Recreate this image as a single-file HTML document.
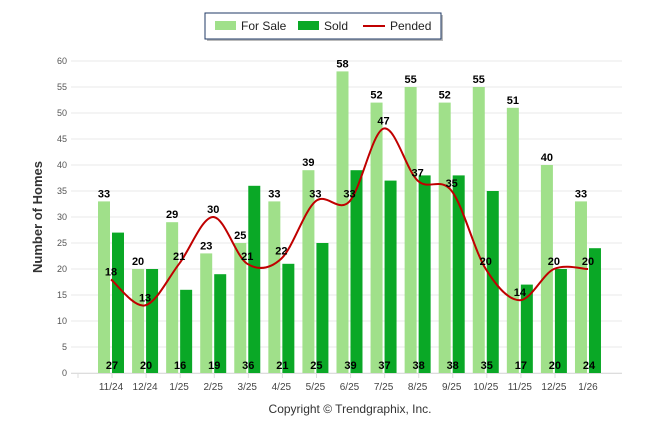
<!DOCTYPE html>
<html><head><meta charset="utf-8"><style>
body{margin:0;background:#fff;font-family:"Liberation Sans",Arial,sans-serif}
svg text{font-family:"Liberation Sans",Arial,sans-serif}
</style></head><body>
<svg id="c" width="646" height="434" xmlns="http://www.w3.org/2000/svg">
<g>
<rect x="207" y="15" width="236" height="26" fill="#bbb"/>
<rect x="205" y="13" width="236" height="26" fill="#fff" stroke="#1f3864" stroke-width="1"/>
<rect x="215" y="21" width="21" height="9" fill="#a0e08a"/>
<text x="241" y="30" font-size="12" fill="#222">For Sale</text>
<rect x="298" y="21" width="21" height="9" fill="#0aa826"/>
<text x="324" y="30" font-size="12" fill="#222">Sold</text>
<line x1="363" y1="26" x2="385" y2="26" stroke="#c00000" stroke-width="2"/>
<text x="390" y="30" font-size="12" fill="#222">Pended</text>
</g>
<text transform="translate(42,217) rotate(-90)" text-anchor="middle" font-size="13" font-weight="bold" fill="#333">Number of Homes</text>
<text x="350" y="413" text-anchor="middle" font-size="12" fill="#333">Copyright © Trendgraphix, Inc.</text>
<g id="grid"></g><g id="bars"></g><g id="line"></g><g id="labels"></g>
</svg>
<script>
const categories=["11/24","12/24","1/25","2/25","3/25","4/25","5/25","6/25","7/25","8/25","9/25","10/25","11/25","12/25","1/26"];
const forSale=[33,20,29,23,25,33,39,58,52,55,52,55,51,40,33];
const sold=[27,20,16,19,36,21,25,39,37,38,38,35,17,20,24];
const pended=[18,13,21,30,21,22,33,33,47,37,35,20,14,20,20];
const yTicks=[0,5,10,15,20,25,30,35,40,45,50,55,60];
const NS="http://www.w3.org/2000/svg";
const y0=373,yTop=61,yMax=60;
const y=v=>y0-(v/yMax)*(y0-yTop);
const x=i=>111+i*34.07;
function mk(p,t,a){const e=document.createElementNS(NS,t);for(const k in a)e.setAttribute(k,a[k]);p.appendChild(e);return e;}
const G=document.getElementById('grid'),B=document.getElementById('bars'),L=document.getElementById('line'),T=document.getElementById('labels');
yTicks.forEach(v=>{
 const l=mk(G,'line',{x1:71,x2:622,y1:y(v),y2:y(v),stroke:'#e8e8e8','stroke-width':1});
 
 
 const t=mk(G,'text',{x:67,y:y(v)+3,'text-anchor':'end','font-size':'9',fill:'#555'});t.textContent=v;
 
 
});
mk(G,'line',{x1:71,x2:622,y1:y0+0.5,y2:y0+0.5,stroke:'#ddd'});
categories.forEach((c,i)=>{
 const tk=mk(G,'line',{x1:x(i)-33,x2:x(i)-33,y1:y0,y2:y0+5,stroke:'#ddd'});
 const t=mk(G,'text',{x:x(i),y:390,'text-anchor':'middle','font-size':'10',fill:'#444'});t.textContent=c;
 
 
 const b1=mk(B,'rect',{x:x(i)-13,y:y(forSale[i]),width:12,height:y0-y(forSale[i]),fill:'#a0e08a'});
 
 
 const b2=mk(B,'rect',{x:x(i)+1,y:y(sold[i]),width:12,height:y0-y(sold[i]),fill:'#0aa826'});
 
 
 const l1=mk(T,'text',{x:x(i)-7,y:y(forSale[i])-4,'text-anchor':'middle','font-size':'11','font-weight':'bold',fill:'#000'});l1.textContent=forSale[i];
 
 
 const l2=mk(T,'text',{x:x(i)+1,y:369,'text-anchor':'middle','font-size':'11','font-weight':'bold',fill:'#000'});l2.textContent=sold[i];
 
 
 const l3=mk(T,'text',{x:x(i),y:y(pended[i])-4,'text-anchor':'middle','font-size':'11','font-weight':'bold',fill:'#000'});l3.textContent=pended[i];
 
 
});
const P=pended.map((v,i)=>[x(i),y(v)]);
let d='M'+P[0][0]+','+P[0][1];
for(let i=0;i<P.length-1;i++){
 const p0=P[Math.max(0,i-1)],p1=P[i],p2=P[i+1],p3=P[Math.min(P.length-1,i+2)];
 const c1=[p1[0]+(p2[0]-p0[0])/6,p1[1]+(p2[1]-p0[1])/6],c2=[p2[0]-(p3[0]-p1[0])/6,p2[1]-(p3[1]-p1[1])/6];
 d+=` C${c1[0]},${c1[1]} ${c2[0]},${c2[1]} ${p2[0]},${p2[1]}`;
}
const pl=mk(L,'path',{d:d,fill:'none',stroke:'#c00000','stroke-width':2});


</script>
</body></html>
